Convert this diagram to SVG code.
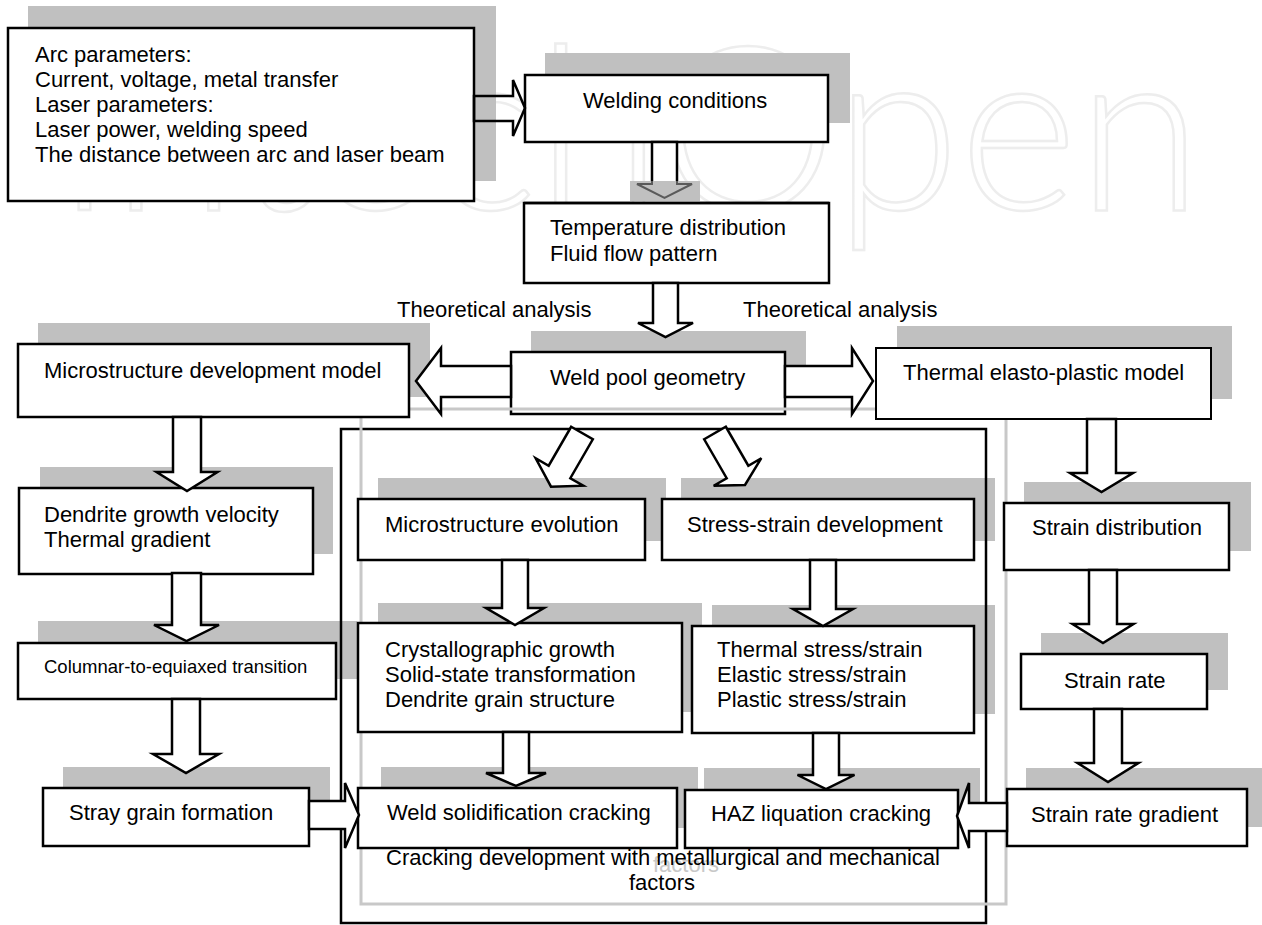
<svg xmlns="http://www.w3.org/2000/svg" width="1262" height="925" viewBox="0 0 1262 925">
<style>
.box{fill:#fff;stroke:#000;stroke-width:2.5}
.sh{fill:#c0c0c0}
.arr{fill:#fff;stroke:#000;stroke-width:2.5;stroke-linejoin:miter}
.t{font-family:"Liberation Sans",Arial,sans-serif;font-size:22px;fill:#000}
.wm{font-family:Lato,"Liberation Sans",sans-serif;font-weight:300;font-size:230px;fill:none;stroke:#ededed;stroke-width:2.5}
</style>
<defs>
<clipPath id="clipHead"><rect x="620" y="181" width="90" height="30"/></clipPath>
</defs>
<rect width="1262" height="925" fill="#fff"/>
<text class="wm" x="55" y="210" textLength="1147" lengthAdjust="spacingAndGlyphs">IntechOpen</text>

<g id="shadows">
<rect class="sh" x="28" y="6" width="468" height="175"/>
<rect class="sh" x="545" y="53" width="305" height="70"/>
<rect class="sh" x="38" y="323" width="392" height="74"/>
<rect class="sh" x="531" y="331" width="275" height="64"/>
<rect class="sh" x="897" y="326" width="335" height="73"/>
<rect class="sh" x="40" y="467" width="293" height="87"/>
<rect class="sh" x="378" y="478" width="288" height="63"/>
<rect class="sh" x="681" y="478" width="314" height="63"/>
<rect class="sh" x="1024" y="482" width="227" height="69"/>
<rect class="sh" x="38" y="621" width="319" height="58"/>
<rect class="sh" x="378" y="603" width="324" height="109"/>
<rect class="sh" x="712" y="605" width="283" height="109"/>
<rect class="sh" x="1041" y="633" width="187" height="57"/>
<rect class="sh" x="63" y="767" width="267" height="59"/>
<rect class="sh" x="381" y="767" width="317" height="61"/>
<rect class="sh" x="704" y="768" width="276" height="60"/>
<rect class="sh" x="1026" y="768" width="240" height="59"/>
</g>

<g id="frames">
<rect x="341" y="429" width="645" height="494" fill="none" stroke="#000" stroke-width="2.5"/>
</g>

<g id="n-params">
<rect class="box" x="8" y="28" width="466" height="173"/>
<text class="t" x="35" y="62">Arc parameters:</text>
<text class="t" x="35" y="87">Current, voltage, metal transfer</text>
<text class="t" x="35" y="112">Laser parameters:</text>
<text class="t" x="35" y="137">Laser power, welding speed</text>
<text class="t" x="35" y="162">The distance between arc and laser beam</text>
</g>
<g id="n-welding">
<rect class="box" x="525" y="75" width="303" height="67"/>
<text class="t" x="583" y="108">Welding conditions</text>
</g>
<g id="n-temp">
<rect class="box" x="524" y="203" width="305" height="80"/>
<text class="t" x="550" y="235">Temperature distribution</text>
<text class="t" x="550" y="261">Fluid flow pattern</text>
</g>
<g id="n-weldpool">
<rect class="box" x="511" y="352" width="274" height="62"/>
<text class="t" x="550" y="385">Weld pool geometry</text>
</g>
<g id="gray-frame">
<rect x="361" y="409" width="645" height="495" fill="none" stroke="#c8c8c8" stroke-width="3"/>
</g>
<g id="n-microdev">
<rect class="box" x="18" y="344" width="391" height="73"/>
<text class="t" x="44" y="378">Microstructure development model</text>
</g>
<g id="n-elasto">
<rect class="box" x="876" y="348" width="335" height="71" style="stroke-width:2"/>
<text class="t" x="903" y="380">Thermal elasto-plastic model</text>
</g>
<g id="n-dendrite">
<rect class="box" x="19" y="488" width="294" height="86"/>
<text class="t" x="44" y="522">Dendrite growth velocity</text>
<text class="t" x="44" y="547">Thermal gradient</text>
</g>
<g id="n-microevol">
<rect class="box" x="358" y="499" width="287" height="61"/>
<text class="t" x="385" y="532">Microstructure evolution</text>
</g>
<g id="n-stress">
<rect class="box" x="662" y="499" width="312" height="61"/>
<text class="t" x="687" y="532">Stress-strain development</text>
</g>
<g id="n-straindist">
<rect class="box" x="1004" y="503" width="225" height="67"/>
<text class="t" x="1032" y="535">Strain distribution</text>
</g>
<g id="n-columnar">
<rect class="box" x="18" y="643" width="318" height="56"/>
<text class="t" x="44" y="673" style="font-size:18.5px">Columnar-to-equiaxed transition</text>
</g>
<g id="n-cryst">
<rect class="box" x="358" y="623" width="324" height="109"/>
<text class="t" x="385" y="657">Crystallographic growth</text>
<text class="t" x="385" y="682">Solid-state transformation</text>
<text class="t" x="385" y="707">Dendrite grain structure</text>
</g>
<g id="n-thermal">
<rect class="box" x="692" y="626" width="282" height="107"/>
<text class="t" x="717" y="657">Thermal stress/strain</text>
<text class="t" x="717" y="682">Elastic stress/strain</text>
<text class="t" x="717" y="707">Plastic stress/strain</text>
</g>
<g id="n-strainrate">
<rect class="box" x="1021" y="654" width="186" height="55"/>
<text class="t" x="1064" y="688">Strain rate</text>
</g>
<g id="n-stray">
<rect class="box" x="43" y="788" width="266" height="58"/>
<text class="t" x="69" y="820">Stray grain formation</text>
</g>
<g id="n-weldsolid">
<rect class="box" x="358" y="788" width="319" height="60"/>
<text class="t" x="387" y="820">Weld solidification cracking</text>
</g>
<g id="n-haz">
<rect class="box" x="685" y="790" width="273" height="58"/>
<text class="t" x="711" y="821">HAZ liquation cracking</text>
</g>
<g id="n-gradient">
<rect class="box" x="1007" y="789" width="240" height="57"/>
<text class="t" x="1031" y="822">Strain rate gradient</text>
</g>

<g id="labels">
<text class="t" x="397" y="317">Theoretical analysis</text>
<text class="t" x="743" y="317">Theoretical analysis</text>
<text class="t" x="653" y="872" style="fill:#c8c8c8">factors</text>
<text class="t" x="386" y="865">Cracking development with metallurgical and mechanical</text>
<text class="t" x="662" y="890" text-anchor="middle">factors</text>
</g>

<g id="connectors">
<polygon class="arr" style="fill:none" points="474,96 513,96 513,80 525,108 513,136 513,121 474,121"/>
<polygon class="arr" points="652,142 677,142 677,184 692,184 664.5,198 637,184 652,184"/>
<rect class="sh" x="630" y="181" width="70" height="20"/>
<polygon clip-path="url(#clipHead)" fill="none" stroke="#5a5a5a" stroke-width="2" points="652,142 677,142 677,184 692,184 664.5,198 637,184 652,184"/>
<line x1="524" y1="203" x2="829" y2="203" stroke="#000" stroke-width="2.5"/>
<polygon class="arr" points="653,283 678,283 678,323 693,323 665.5,337 638,323 653,323"/>
<polygon class="arr" points="511,366 441,366 441,348 416,381 441,414 441,397 511,397"/>
<polygon class="arr" points="785,366 852,366 852,348 873,381 852,414 852,397 785,397"/>
<polygon class="arr" transform="translate(582,433) rotate(30)" points="-12.5,0 12.5,0 12.5,45 27.5,45 0,62 -27.5,45 -12.5,45"/>
<polygon class="arr" transform="translate(715,433) rotate(-30)" points="-12.5,0 12.5,0 12.5,45 27.5,45 0,60 -27.5,45 -12.5,45"/>
<polygon class="arr" points="173,417 201,417 201,472 217.5,472 187,491 156.5,472 173,472"/>
<polygon class="arr" points="172,573 201,573 201,625 219,625 186.5,641 154,625 172,625"/>
<polygon class="arr" points="172,699 200,699 200,754 219,754 186,773 153,754 172,754"/>
<polygon class="arr" points="502,560 528,560 528,608 544,608 515,625 486,608 502,608"/>
<polygon class="arr" points="810,560 836,560 836,609 853,609 823,626 793,609 810,609"/>
<polygon class="arr" points="503,732 529,732 529,773 546,773 516,786 486,773 503,773"/>
<polygon class="arr" points="813,733 839,733 839,775 854.5,775 826,789 797.5,775 813,775"/>
<polygon class="arr" points="1087,419 1116,419 1116,473 1133,473 1101.5,492 1070,473 1087,473"/>
<polygon class="arr" points="1089,570 1117,570 1117,624 1133.5,624 1103,643 1072.5,624 1089,624"/>
<polygon class="arr" points="1094,709 1122,709 1122,763 1138.5,763 1108,782 1077.5,763 1094,763"/>
<polygon class="arr" points="309,801 345,801 345,783 359,815 345,848 345,829 309,829"/>
<polygon class="arr" points="1007,803 969,803 969,783 957,816 969,848 969,831 1007,831"/>
</g>
</svg>
